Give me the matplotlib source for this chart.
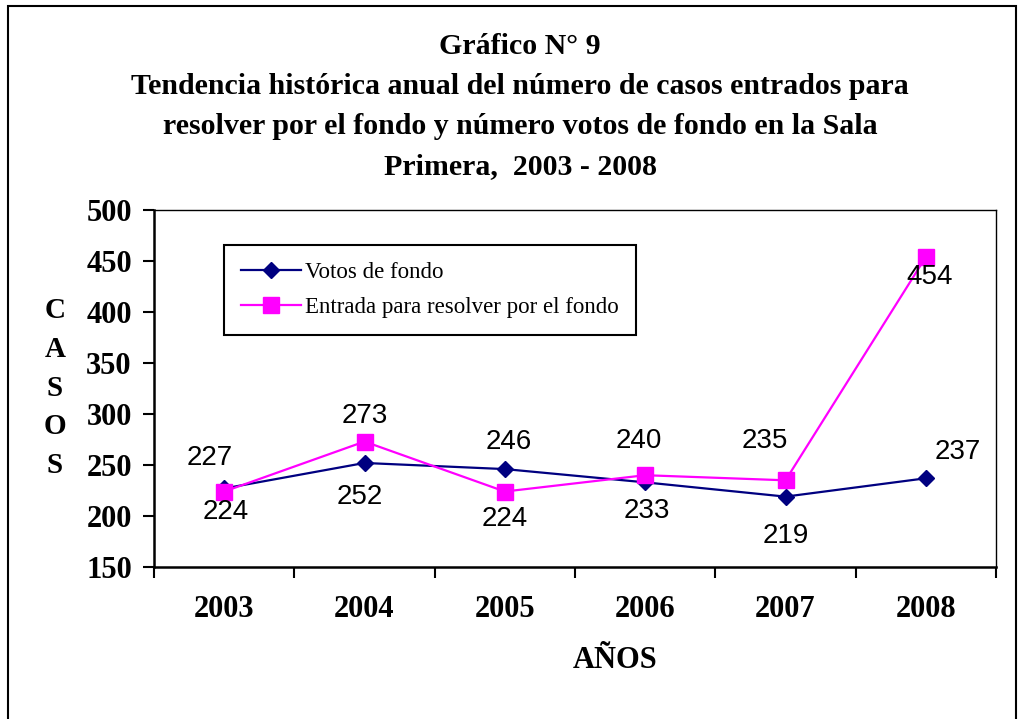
import matplotlib.pyplot as plt
from matplotlib.patches import Rectangle

years = ["2003", "2004", "2005", "2006", "2007", "2008"]
votos = [227, 252, 246, 233, 219, 237]
entrada = [224, 273, 224, 240, 235, 454]

# label offsets in pixels (dx, dy), picked to sit like the original
votos_off = [(-14, 30), (-5, -34), (4, 27), (2, -29), (0, -39), (32, 26)]
entrada_off = [(2, -20), (0, 26), (0, -27), (-6, 34), (-21, 39), (4, -20)]

serif = "Liberation Serif"
sans = "Liberation Sans"

fig = plt.figure(figsize=(10.2, 7.19), dpi=100)
ax = fig.add_axes([0.151, 0.2114, 0.8255, 0.4965])

x = list(range(len(years)))
ax.plot(x, votos, color="#000080", lw=1.6, marker="D", ms=8.5, label="Votos de fondo")
ax.plot(x, entrada, color="#FF00FF", lw=1.6, marker="s", ms=11, label="Entrada para resolver por el fondo")

for i in x:
    ax.annotate(str(votos[i]), (i, votos[i]), xytext=votos_off[i], textcoords="offset pixels",
                ha="center", va="center", fontsize=20, family=sans)
    ax.annotate(str(entrada[i]), (i, entrada[i]), xytext=entrada_off[i], textcoords="offset pixels",
                ha="center", va="center", fontsize=20, family=sans)

ax.set_xlim(-0.5, len(years) - 0.5)
ax.set_ylim(150, 500)
ax.set_yticks(range(150, 501, 50))
ax.set_xticks(x)
ax.set_xticklabels(years)
ax.set_xticks([i - 0.5 for i in range(len(years) + 1)], minor=True)
ax.tick_params(axis="x", which="major", length=0, pad=20)
ax.tick_params(axis="x", which="minor", length=8, width=1.5, direction="out")
ax.tick_params(axis="y", length=8, width=1.5, direction="out", pad=8)
for lab in ax.get_xticklabels() + ax.get_yticklabels():
    lab.set_family(serif)
    lab.set_fontweight("bold")
    lab.set_fontsize(22)

for s in ["left", "bottom"]:
    ax.spines[s].set_linewidth(1.8)
for s in ["top", "right"]:
    ax.spines[s].set_linewidth(1.0)

leg = ax.legend(loc="upper left", bbox_to_anchor=(0.083, 0.902), borderaxespad=0,
                fancybox=False, edgecolor="black", framealpha=1,
                prop={"family": serif, "size": 16.5}, handlelength=2.6,
                handletextpad=0.2, borderpad=0.75, labelspacing=0.6)
leg.get_frame().set_linewidth(1.5)

title = ["Gráfico N° 9",
         "Tendencia histórica anual del número de casos entrados para",
         "resolver por el fondo y número votos de fondo en la Sala",
         "Primera,  2003 - 2008"]
for k, line in enumerate(title):
    fig.text(0.51, 1 - (47 + 40 * k) / 719, line, ha="center", va="center",
             family=serif, fontweight="bold", fontsize=21.5)

fig.text(55 / 1020, 1 - 388 / 719, "C\nA\nS\nO\nS", ha="center", va="center",
         family=serif, fontweight="bold", fontsize=21, linespacing=1.55)
fig.text(615 / 1020, 1 - 660 / 719, "AÑOS", ha="center", va="center",
         family=serif, fontweight="bold", fontsize=22)

fig.patches.append(Rectangle((8 / 1020, -0.05), 1008 / 1020, 1.05 - 6 / 719,
                             transform=fig.transFigure, fill=False, lw=1.5, edgecolor="black"))

fig.savefig("out.png", dpi=100)
